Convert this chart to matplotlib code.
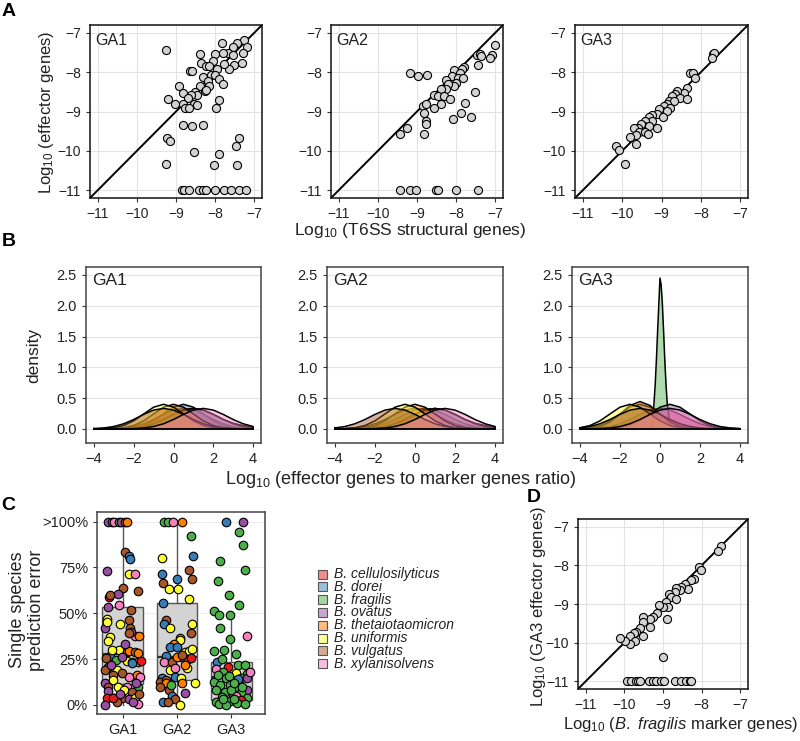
import matplotlib
matplotlib.use('Agg')
import matplotlib.pyplot as plt
from matplotlib.patches import Rectangle

plt.rcParams['font.family'] = ['Liberation Sans', 'DejaVu Sans']
plt.rcParams['mathtext.fontset'] = 'custom'
plt.rcParams['mathtext.rm'] = 'Liberation Sans'
plt.rcParams['mathtext.it'] = 'Liberation Sans:italic'
plt.rcParams['mathtext.bf'] = 'Liberation Sans:bold'

# ---------------- data ----------------
groups = ['GA1', 'GA2', 'GA3']
species = ['B. cellulosilyticus', 'B. dorei', 'B. fragilis', 'B. ovatus',
           'B. thetaiotaomicron', 'B. uniformis', 'B. vulgatus', 'B. xylanisolvens']
sp_colors = ['#E41A1C', '#377EB8', '#4DAF4A', '#984EA3',
             '#FF7F00', '#FFFF33', '#A65628', '#F781BF']

# Panel A: log10 T6SS structural (x) vs log10 effector (y)
ga1_x = [-9.25, -7.83, -7.26, -7.44, -7.19, -7.54, -7.68, -7.81, -8.00, -7.29, -7.53, -8.38, -7.32,
         -7.52, -7.64, -7.78, -8.05, -8.36, -8.23, -8.15, -7.95, -8.65, -8.60, -8.32, -8.11, -8.00,
         -7.89, -7.81, -8.19, -8.15, -8.38, -8.26, -8.22, -8.93, -8.81, -8.51, -8.45, -8.62, -8.70,
         -8.53, -9.21, -9.03, -8.83, -8.77, -8.66, -8.46, -7.89, -7.98, -8.83, -8.60, -8.30, -9.23,
         -9.16, -7.40, -7.46, -8.53, -7.90, -9.25, -8.02, -7.43,
         -8.85, -8.79, -8.68, -8.40, -8.32, -8.23, -8.00, -7.78, -7.60, -7.38, -7.21]
ga1_y = [-7.43, -7.26, -7.19, -7.27, -7.36, -7.36, -7.50, -7.50, -7.54, -7.50, -7.57, -7.54, -7.76,
         -7.81, -7.93, -7.78, -7.71, -7.76, -7.85, -7.85, -7.91, -7.98, -7.98, -8.11, -8.06, -8.08,
         -8.17, -8.29, -8.23, -8.34, -8.35, -8.48, -8.46, -8.34, -8.52, -8.51, -8.57, -8.59, -8.66,
         -8.80, -8.69, -8.82, -8.80, -8.91, -8.91, -8.83, -8.72, -8.91, -9.34, -9.38, -9.34, -9.68,
         -9.76, -9.67, -9.89, -10.04, -10.08, -10.34, -10.36, -10.36,
         -11, -11, -11, -11, -11, -11, -11, -11, -11, -11, -11]
ga2_x = [-7.01, -7.47, -7.38, -7.35, -7.09, -7.12, -7.45, -7.79, -7.86, -8.06, -7.91, -8.10, -9.17,
         -8.98, -8.74, -8.25, -7.94, -7.83, -7.99, -8.05, -8.20, -8.25, -8.38, -8.57, -8.47, -8.30,
         -8.16, -7.51, -7.76, -8.85, -8.77, -8.57, -8.38, -8.83, -8.78, -8.78, -8.83, -7.88, -8.09,
         -7.62, -9.26, -9.43,
         -9.43, -9.17, -9.03, -8.52, -8.45, -7.99, -7.45]
ga2_y = [-7.32, -7.57, -7.53, -7.59, -7.57, -7.65, -7.83, -7.86, -7.93, -7.95, -8.02, -8.10, -8.02,
         -8.10, -8.07, -8.19, -8.14, -8.14, -8.27, -8.36, -8.31, -8.44, -8.44, -8.57, -8.61, -8.61,
         -8.68, -8.51, -8.78, -8.86, -8.82, -8.91, -8.82, -9.03, -9.25, -9.33, -9.58, -9.05, -9.18,
         -9.14, -9.42, -9.58,
         -11, -11, -11, -11, -11, -11, -11]
ga3_x = [-7.70, -7.66, -7.71, -8.27, -8.20, -8.14, -8.36, -8.44, -8.61, -8.65, -8.73, -8.53, -8.36,
         -8.81, -8.69, -8.86, -8.94, -8.79, -8.98, -8.86, -9.06, -9.11, -8.96, -9.24, -9.33, -9.24,
         -9.41, -9.45, -9.11, -9.33, -9.53, -9.61, -9.69, -9.56, -9.43, -9.35, -9.64, -9.81, -9.66,
         -10.15, -10.09, -9.93]
ga3_y = [-7.55, -7.51, -7.63, -8.01, -8.01, -8.14, -8.41, -8.52, -8.48, -8.55, -8.61, -8.65, -8.69,
         -8.73, -8.73, -8.81, -8.86, -8.90, -8.98, -8.98, -8.94, -9.07, -9.15, -9.08, -9.15, -9.24,
         -9.24, -9.36, -9.41, -9.36, -9.32, -9.41, -9.41, -9.53, -9.53, -9.57, -9.61, -9.66, -9.83,
         -9.89, -9.98, -10.33]
scatter_x = [ga1_x, ga2_x, ga3_x]
scatter_y = [ga1_y, ga2_y, ga3_y]

# Panel B: density curves (value of density at grid positions)
dens_grid = [-4, -3.5, -3, -2.5, -2, -1.5, -1, -0.5, 0, 0.5, 1, 1.5, 2, 2.5, 3, 3.5, 4]
dens_ga1 = [
    [0.000, 0.001, 0.005, 0.015, 0.038, 0.083, 0.152, 0.235, 0.305, 0.332, 0.305, 0.235, 0.152, 0.083, 0.038, 0.015, 0.005],
    [0.000, 0.000, 0.001, 0.004, 0.018, 0.054, 0.130, 0.242, 0.352, 0.399, 0.352, 0.242, 0.130, 0.054, 0.018, 0.004, 0.001],
    [0.000, 0.000, 0.001, 0.005, 0.015, 0.038, 0.083, 0.152, 0.235, 0.305, 0.332, 0.305, 0.235, 0.152, 0.090, 0.055, 0.032],
    [0.000, 0.000, 0.001, 0.005, 0.015, 0.038, 0.083, 0.152, 0.235, 0.305, 0.332, 0.305, 0.235, 0.152, 0.083, 0.038, 0.015],
    [0.000, 0.001, 0.004, 0.018, 0.054, 0.130, 0.242, 0.352, 0.399, 0.352, 0.242, 0.130, 0.054, 0.018, 0.004, 0.001, 0.000],
    [0.001, 0.004, 0.018, 0.054, 0.130, 0.242, 0.352, 0.399, 0.352, 0.242, 0.130, 0.054, 0.018, 0.004, 0.001, 0.000, 0.000],
    [0.005, 0.015, 0.038, 0.083, 0.152, 0.235, 0.305, 0.332, 0.305, 0.235, 0.152, 0.083, 0.038, 0.015, 0.005, 0.001, 0.000],
    [0.000, 0.000, 0.000, 0.001, 0.005, 0.015, 0.038, 0.083, 0.152, 0.235, 0.305, 0.332, 0.305, 0.235, 0.152, 0.083, 0.038],
]
dens_ga2 = [
    [0.000, 0.001, 0.005, 0.015, 0.038, 0.083, 0.152, 0.235, 0.305, 0.332, 0.305, 0.235, 0.152, 0.083, 0.038, 0.015, 0.005],
    [0.001, 0.005, 0.015, 0.038, 0.083, 0.152, 0.235, 0.305, 0.332, 0.305, 0.235, 0.152, 0.083, 0.038, 0.015, 0.005, 0.001],
    [0.000, 0.000, 0.001, 0.005, 0.015, 0.038, 0.083, 0.152, 0.235, 0.305, 0.332, 0.305, 0.235, 0.152, 0.090, 0.055, 0.032],
    [0.000, 0.000, 0.001, 0.005, 0.015, 0.038, 0.083, 0.152, 0.235, 0.305, 0.332, 0.305, 0.235, 0.152, 0.083, 0.038, 0.015],
    [0.000, 0.001, 0.004, 0.018, 0.054, 0.130, 0.242, 0.352, 0.399, 0.352, 0.242, 0.130, 0.054, 0.018, 0.004, 0.001, 0.000],
    [0.001, 0.004, 0.018, 0.054, 0.130, 0.242, 0.352, 0.399, 0.352, 0.242, 0.130, 0.054, 0.018, 0.004, 0.001, 0.000, 0.000],
    [0.015, 0.038, 0.083, 0.152, 0.235, 0.305, 0.332, 0.305, 0.235, 0.152, 0.083, 0.038, 0.015, 0.005, 0.001, 0.000, 0.000],
    [0.000, 0.000, 0.000, 0.001, 0.005, 0.015, 0.038, 0.083, 0.152, 0.235, 0.305, 0.332, 0.305, 0.235, 0.152, 0.083, 0.038],
]
dens_ga3 = [
    [0.001, 0.005, 0.015, 0.038, 0.083, 0.152, 0.235, 0.305, 0.332, 0.305, 0.235, 0.152, 0.083, 0.038, 0.015, 0.005, 0.001],
    [0.004, 0.018, 0.054, 0.130, 0.242, 0.352, 0.399, 0.352, 0.242, 0.130, 0.054, 0.018, 0.004, 0.001, 0.000, 0.000, 0.000],
    None,
    [0.000, 0.000, 0.001, 0.004, 0.018, 0.054, 0.130, 0.242, 0.352, 0.399, 0.352, 0.242, 0.130, 0.054, 0.018, 0.004, 0.001],
    [0.002, 0.009, 0.038, 0.110, 0.239, 0.380, 0.443, 0.380, 0.239, 0.110, 0.038, 0.009, 0.002, 0.000, 0.000, 0.000, 0.000],
    [0.018, 0.054, 0.130, 0.242, 0.352, 0.399, 0.352, 0.242, 0.130, 0.054, 0.018, 0.004, 0.001, 0.000, 0.000, 0.000, 0.000],
    [0.015, 0.038, 0.083, 0.152, 0.235, 0.305, 0.332, 0.305, 0.235, 0.152, 0.083, 0.038, 0.015, 0.005, 0.001, 0.000, 0.000],
    [0.000, 0.001, 0.005, 0.015, 0.038, 0.083, 0.152, 0.235, 0.305, 0.332, 0.305, 0.235, 0.152, 0.083, 0.038, 0.015, 0.005],
]
# B. fragilis in GA3: narrow spike, own grid
frag_ga3_x = [-4, -2, -1, -0.6, -0.48, -0.36, -0.30, -0.24, -0.18, -0.12, -0.06, 0, 0.06, 0.12, 0.18, 0.24, 0.30, 0.36, 0.48, 0.6, 1, 2, 4]
frag_ga3_y = [0, 0, 0, 0.002, 0.02, 0.11, 0.42, 0.72, 1.12, 1.58, 2.02, 2.45, 2.33, 2.02, 1.58, 1.12, 0.72, 0.42, 0.11, 0.02, 0, 0, 0]
dens_all = [dens_ga1, dens_ga2, dens_ga3]

# Panel C: boxplot stats (fraction) and jittered points (offset, error, species index)
box_q1 = [0.114, 0.136, 0.027]
box_med = [0.275, 0.261, 0.154]
box_q3 = [0.534, 0.558, 0.236]
box_lo = [0.0, 0.0, 0.0]
box_hi = [1.0, 1.0, 0.471]

pts_ga1 = [(-0.26, 1.0, 3), (-0.20, 1.0, 3), (-0.15, 1.0, 7), (-0.07, 1.0, 2), (-0.02, 1.0, 3), (0.04, 1.0, 6), (0.09, 1.0, 4),
           (0.04, 0.837, 6), (0.11, 0.815, 1), (0.14, 0.797, 1), (-0.29, 0.730, 3), (0.11, 0.716, 5), (0.22, 0.712, 7),
           (0.0, 0.638, 6), (0.29, 0.620, 6), (-0.09, 0.607, 3), (-0.25, 0.589, 0), (-0.23, 0.598, 6), (-0.06, 0.547, 7),
           (-0.27, 0.534, 3), (-0.29, 0.471, 5), (-0.04, 0.444, 5), (0.11, 0.462, 6), (0.14, 0.417, 6), (-0.32, 0.417, 3),
           (-0.23, 0.371, 5), (-0.27, 0.348, 5), (0.22, 0.377, 7), (0.16, 0.399, 3), (0.31, 0.377, 4), (-0.07, 0.299, 5),
           (0.08, 0.290, 6), (0.12, 0.293, 4), (0.23, 0.290, 6), (0.29, 0.281, 4), (-0.23, 0.268, 1), (-0.12, 0.245, 2),
           (0.08, 0.239, 5), (0.18, 0.236, 4), (0.28, 0.232, 4), (0.34, 0.239, 0), (-0.01, 0.263, 3), (-0.26, 0.208, 6),
           (-0.10, 0.190, 5), (-0.32, 0.190, 6), (-0.21, 0.217, 3), (0.11, 0.154, 7), (-0.01, 0.172, 6), (-0.17, 0.163, 6),
           (0.26, 0.163, 4), (0.33, 0.154, 7), (-0.17, 0.136, 5), (-0.33, 0.118, 3), (-0.27, 0.100, 6), (-0.09, 0.100, 5),
           (0.08, 0.100, 7), (0.29, 0.100, 2), (-0.26, 0.076, 3), (0.02, 0.082, 5), (0.17, 0.072, 6), (-0.29, 0.040, 0),
           (-0.15, 0.036, 5), (-0.01, 0.040, 6), (0.11, 0.031, 3), (0.23, 0.036, 5), (0.28, 0.004, 7), (-0.32, 0.0, 3),
           (-0.10, 0.014, 6), (-0.17, 0.040, 0), (0.20, 0.018, 3), (0.17, 0.226, 1), (-0.29, 0.453, 5), (0.12, 0.395, 6),
           (-0.20, 0.300, 5), (0.05, 0.330, 3), (-0.30, 0.255, 6), (0.25, 0.120, 3), (-0.05, 0.060, 3), (0.30, 0.060, 6),
           (0.15, 0.520, 6)]
pts_ga2 = [(-0.23, 1.0, 2), (-0.17, 1.0, 2), (-0.07, 1.0, 7), (0.10, 1.0, 4), (0.25, 0.92, 2), (-0.27, 0.803, 5),
           (0.29, 0.812, 1), (0.23, 0.734, 6), (0.28, 0.685, 6), (-0.27, 0.716, 1), (-0.26, 0.667, 6), (0.0, 0.685, 1),
           (-0.15, 0.634, 5), (0.02, 0.634, 5), (0.22, 0.576, 5), (-0.26, 0.558, 1), (-0.21, 0.462, 6), (-0.23, 0.444, 1),
           (-0.12, 0.420, 5), (0.28, 0.444, 5), (0.26, 0.395, 6), (0.06, 0.366, 4), (0.06, 0.353, 5), (-0.06, 0.330, 4),
           (-0.13, 0.317, 1), (0.0, 0.317, 1), (0.14, 0.290, 5), (0.23, 0.293, 5), (0.28, 0.304, 5), (-0.21, 0.268, 1),
           (0.08, 0.263, 6), (0.20, 0.250, 6), (0.25, 0.254, 0), (-0.23, 0.236, 7), (-0.09, 0.236, 6), (0.18, 0.203, 5),
           (-0.12, 0.190, 5), (-0.04, 0.199, 7), (-0.27, 0.145, 1), (-0.04, 0.154, 1), (0.08, 0.145, 5), (-0.32, 0.127, 6),
           (-0.20, 0.136, 6), (-0.21, 0.118, 4), (0.33, 0.118, 5), (-0.32, 0.100, 6), (-0.15, 0.082, 6), (0.14, 0.063, 3),
           (-0.26, 0.018, 1), (-0.09, 0.051, 1), (-0.04, 0.031, 6), (0.05, 0.0, 5), (-0.17, 0.018, 6), (0.10, 0.120, 4),
           (-0.10, 0.110, 2), (0.15, 0.220, 4), (0.0, 0.260, 4), (0.10, 0.270, 6)]
pts_ga3 = [(-0.10, 1.0, 1), (0.21, 1.0, 3), (0.15, 0.942, 2), (0.21, 0.873, 2), (-0.20, 0.788, 2), (0.26, 0.739, 2),
           (-0.25, 0.674, 2), (-0.04, 0.601, 2), (0.14, 0.547, 2), (-0.31, 0.511, 2), (-0.23, 0.489, 2), (-0.02, 0.493, 2),
           (-0.21, 0.420, 2), (0.28, 0.377, 7), (-0.03, 0.362, 2), (-0.31, 0.293, 2), (-0.14, 0.299, 2), (0.09, 0.275, 2),
           (-0.26, 0.236, 1), (-0.06, 0.208, 0), (0.12, 0.217, 2), (-0.18, 0.250, 2), (0.25, 0.217, 2), (-0.29, 0.196, 7),
           (-0.15, 0.181, 2), (0.08, 0.172, 5), (0.28, 0.167, 2), (0.18, 0.145, 2), (0.12, 0.141, 1), (-0.10, 0.145, 2),
           (-0.31, 0.127, 2), (0.28, 0.145, 3), (-0.21, 0.109, 2), (-0.03, 0.109, 2), (0.10, 0.100, 2), (0.28, 0.082, 3),
           (-0.28, 0.082, 2), (-0.12, 0.072, 2), (0.18, 0.063, 2), (0.03, 0.054, 3), (0.08, 0.051, 7), (-0.18, 0.045, 2),
           (0.29, 0.036, 2), (0.18, 0.027, 0), (-0.28, 0.018, 2), (-0.03, 0.022, 2), (0.10, 0.009, 2), (-0.23, 0.004, 2),
           (0.25, 0.004, 2), (-0.09, 0.0, 2), (0.0, 0.082, 2), (-0.25, 0.163, 2), (0.34, 0.181, 7), (0.05, 0.120, 2),
           (-0.05, 0.160, 2), (0.20, 0.100, 2), (-0.15, 0.030, 2), (0.05, 0.030, 2)]
pts_all = [pts_ga1, pts_ga2, pts_ga3]
c_ticks = [0, 0.25, 0.5, 0.75, 1.0]
c_ticklabels = ['0%', '25%', '50%', '75%', '>100%']

# Panel D: log10 B. fragilis marker (x) vs log10 GA3 effector (y)
d_x = [-7.50, -7.58, -8.06, -8.02, -8.21, -8.27, -8.42, -8.36, -8.53, -8.57, -8.66, -8.70, -8.85, -8.79, -8.67,
       -8.93, -8.87, -9.00, -9.10, -9.15, -9.25, -9.34, -9.51, -9.51, -9.34, -9.60, -9.69, -9.51, -9.75, -9.86,
       -9.73, -9.86, -9.99, -10.12, -8.89, -9.01,
       -9.94, -9.84, -9.70, -9.64, -9.60, -9.37, -9.26, -9.17, -9.04, -8.98, -8.70, -8.53, -8.40, -8.31, -8.27]
d_y = [-7.51, -7.63, -8.03, -8.13, -8.35, -8.39, -8.48, -8.61, -8.55, -8.65, -8.58, -8.69, -8.75, -8.82, -8.86,
       -8.94, -9.07, -9.09, -9.03, -9.22, -9.33, -9.40, -9.33, -9.46, -9.59, -9.63, -9.72, -9.83, -9.76, -9.83,
       -9.95, -10.03, -9.97, -9.89, -9.40, -10.38,
       -11, -11, -11, -11, -11, -11, -11, -11, -11, -11, -11, -11, -11, -11, -11]

log_ticks = [-11, -10, -9, -8, -7]

# ---------------- drawing ----------------
W, H = 800, 741
fig = plt.figure(figsize=(8, 7.41), dpi=100)


def px_axes(x0, y0, x1, y1):
    return fig.add_axes([x0 / W, 1 - y1 / H, (x1 - x0) / W, (y1 - y0) / H])


def ftext(x, y, s, **kw):
    fig.text(x / W, 1 - y / H, s, **kw)


TXT = '#222222'
GRID = '#E3E3E3'


def style(ax, spine='#222222', lw=1.1, tsize=9.5):
    for s in ax.spines.values():
        s.set_color(spine)
        s.set_linewidth(lw)
    ax.tick_params(colors='#333333', labelcolor=TXT, labelsize=tsize, length=3, width=0.8)
    ax.set_axisbelow(True)


def scatter_panel(ax, xs, ys, label=None):
    ax.set_xlim(-11.2, -6.8)
    ax.set_ylim(-11.2, -6.8)
    ax.set_xticks(log_ticks)
    ax.set_yticks(log_ticks)
    ax.grid(True, color=GRID, lw=0.8)
    ax.axline((-11, -11), slope=1, color='black', lw=1.4, zorder=2)
    ax.scatter(xs, ys, s=34, facecolor='#D3D3D3', edgecolor='black', linewidth=0.8, zorder=3)
    if label:
        ax.text(0.03, 0.955, label, transform=ax.transAxes, ha='left', va='top', fontsize=11.5, color=TXT)
    style(ax, spine='#111111', tsize=10)


# Panel A
a_boxes = [(90, 25, 262, 198), (331, 25, 503, 198), (575, 25, 748, 198)]
for i, b in enumerate(a_boxes):
    ax = px_axes(*b)
    scatter_panel(ax, scatter_x[i], scatter_y[i], groups[i])

ftext(47, 112, r'Log$_{10}$ (effector genes)', rotation=90, ha='center', va='center', fontsize=12, color=TXT)
ftext(410, 231, r'Log$_{10}$ (T6SS structural genes)', ha='center', va='center', fontsize=12.5, color=TXT)

# Panel B
b_boxes = [(86, 267, 261, 443), (327, 267, 503, 443), (572, 267, 748, 443)]
for g, b in enumerate(b_boxes):
    ax = px_axes(*b)
    ax.set_xlim(-4.4, 4.4)
    ax.set_ylim(-0.23, 2.63)
    ax.set_xticks([-4, -2, 0, 2, 4])
    ax.set_yticks([0, 0.5, 1.0, 1.5, 2.0, 2.5])
    ax.set_yticklabels(['0.0', '0.5', '1.0', '1.5', '2.0', '2.5'])
    ax.yaxis.grid(True, color=GRID, lw=0.8)
    for k in range(len(species)):
        vals = dens_all[g][k]
        if vals is None:
            xs, ys = frag_ga3_x, frag_ga3_y
        else:
            xs, ys = dens_grid, vals
        ax.fill_between(xs, 0, ys, color=sp_colors[k], alpha=0.45, lw=0, zorder=2 + k)
        ax.plot(list(xs) + [xs[-1], xs[0], xs[0]], list(ys) + [0, 0, ys[0]],
                color='black', lw=1.1, zorder=2 + k, solid_joinstyle='round')
    ax.text(0.035, 0.965, groups[g], transform=ax.transAxes, ha='left', va='top', fontsize=12.5, color=TXT)
    style(ax, spine='#444444', tsize=10.5)

ftext(34, 355, 'density', rotation=90, ha='center', va='center', fontsize=12.5, color=TXT)
ftext(401, 479, r'Log$_{10}$ (effector genes to marker genes ratio)', ha='center', va='center',
      fontsize=13, color=TXT)

# Panel C
ax = px_axes(97, 512, 265, 714)
stats = []
for i in range(3):
    stats.append(dict(med=box_med[i], q1=box_q1[i], q3=box_q3[i], whislo=box_lo[i], whishi=box_hi[i],
                      fliers=[], label=groups[i]))
ax.bxp(stats, positions=[1, 2, 3], widths=0.75, patch_artist=True, showfliers=False, showcaps=False,
       boxprops=dict(facecolor='#D3D3D3', edgecolor='#555555', linewidth=1.0),
       whiskerprops=dict(color='#555555', linewidth=1.0),
       medianprops=dict(color='#333333', linewidth=1.6))
for g in range(3):
    for off, val, sp in pts_all[g]:
        ax.scatter(g + 1 + off, val, s=38, facecolor=sp_colors[sp], edgecolor='black', linewidth=0.8, zorder=4)
ax.set_xlim(0.53, 3.62)
ax.set_ylim(-0.05, 1.053)
ax.set_yticks(c_ticks)
ax.set_yticklabels(c_ticklabels)
ax.set_xticks([1, 2, 3])
ax.set_xticklabels(groups)
ax.yaxis.grid(True, color='#EDEDED', lw=0.8)
style(ax, spine='#444444', tsize=10.5)
ftext(27, 610, 'Single species\nprediction error', rotation=90, ha='center', va='center',
      fontsize=13, color=TXT, linespacing=1.1)

# Legend (manual)
for k, name in enumerate(species):
    yc = 574 + 12.8 * k
    fig.add_artist(Rectangle(((318) / W, 1 - (yc + 4.5) / H), 9 / W, 9 / H, transform=fig.transFigure,
                             facecolor=sp_colors[k], alpha=0.5, edgecolor='none'))
    fig.add_artist(Rectangle(((318) / W, 1 - (yc + 4.5) / H), 9 / W, 9 / H, transform=fig.transFigure,
                             facecolor='none', edgecolor='#555555', lw=0.8))
    ftext(334, yc, name, ha='left', va='center', fontsize=10, style='italic', color=TXT)

# Panel D
ax = px_axes(578, 519, 748, 689)
scatter_panel(ax, d_x, d_y, None)
ftext(538, 606, r'Log$_{10}$ (GA3 effector genes)', rotation=90, ha='center', va='center',
      fontsize=12, color=TXT)
ftext(681, 725, r'Log$_{10}$ ($\mathit{B.\ fragilis}$ marker genes)', ha='center', va='center',
      fontsize=12, color=TXT)

# Panel letters
ftext(2, 12, 'A', fontsize=14, fontweight='bold', ha='left', va='center')
ftext(2, 241, 'B', fontsize=14, fontweight='bold', ha='left', va='center')
ftext(1, 505, 'C', fontsize=14, fontweight='bold', ha='left', va='center')
ftext(527, 497, 'D', fontsize=14, fontweight='bold', ha='left', va='center')

fig.savefig('out.png', dpi=100)
